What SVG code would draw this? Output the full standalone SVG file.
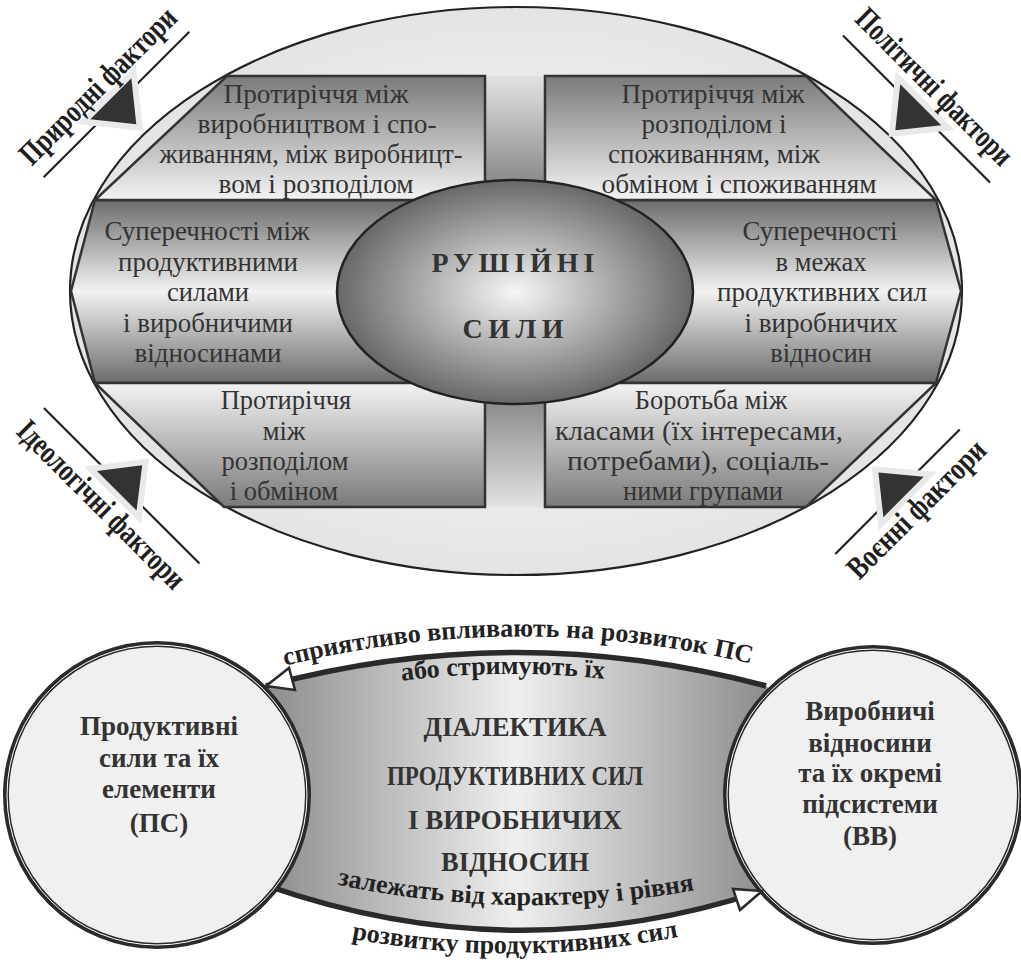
<svg xmlns="http://www.w3.org/2000/svg" width="1021" height="962" viewBox="0 0 1021 962">
  <style>
    .box { stroke: #333; stroke-width: 2.5; }
    .bt { font-family: "Liberation Serif", "DejaVu Serif", serif; font-size: 26.5px; fill: #333; text-anchor: middle; }
    .ft { font-family: "Liberation Serif", "DejaVu Serif", serif; font-weight: bold; font-size: 32px; fill: #1e1e1e; text-anchor: middle; }
    .fl { stroke: #222; stroke-width: 2.2; }
    .tri { fill: #333; stroke: #e9e9e9; stroke-width: 12; stroke-linejoin: miter; paint-order: stroke; }
    .core { font-family: "Liberation Serif", "DejaVu Serif", serif; font-weight: bold; font-size: 28px; fill: #333; text-anchor: middle; }
    .ct { font-family: "Liberation Serif", "DejaVu Serif", serif; font-weight: bold; font-size: 27px; fill: #333; text-anchor: middle; }
    .dt { font-family: "Liberation Serif", "DejaVu Serif", serif; font-weight: bold; font-size: 27px; fill: #333; text-anchor: middle; }
    .arc { font-family: "Liberation Serif", "DejaVu Serif", serif; font-weight: bold; font-size: 26px; fill: #222; text-anchor: middle; }
    .edge { fill: none; stroke: #2a2a2a; stroke-width: 5.5; }
    .head { fill: #fff; stroke: #2a2a2a; stroke-width: 2.5; stroke-linejoin: miter; }
    .ring { fill: #f0f0f0; stroke: #2b2b2b; stroke-width: 6; }
    .ring-in { fill: none; stroke: #fff; stroke-width: 1; }
  </style>
  <defs>
    <radialGradient id="gEll" cx="0.5" cy="0.5" r="0.5">
      <stop offset="0" stop-color="#ffffff"/>
      <stop offset="1" stop-color="#e4e4e4"/>
    </radialGradient>
    <linearGradient id="gTop" x1="0" y1="0" x2="0" y2="1">
      <stop offset="0" stop-color="#7a7a7a"/>
      <stop offset="1" stop-color="#f3f3f3"/>
    </linearGradient>
    <linearGradient id="gBot" x1="0" y1="0" x2="0" y2="1">
      <stop offset="0" stop-color="#f3f3f3"/>
      <stop offset="1" stop-color="#7a7a7a"/>
    </linearGradient>
    <linearGradient id="gBand" x1="0" y1="0" x2="0" y2="1">
      <stop offset="0" stop-color="#6c6c6c"/>
      <stop offset="0.5" stop-color="#f2f2f2"/>
      <stop offset="1" stop-color="#6c6c6c"/>
    </linearGradient>
    <linearGradient id="gBarTop" x1="0" y1="0" x2="0" y2="1">
      <stop offset="0" stop-color="#e2e2e2"/>
      <stop offset="1" stop-color="#7c7c7c"/>
    </linearGradient>
    <linearGradient id="gBarBot" x1="0" y1="0" x2="0" y2="1">
      <stop offset="0" stop-color="#7c7c7c"/>
      <stop offset="1" stop-color="#e2e2e2"/>
    </linearGradient>
    <radialGradient id="gCore" cx="0.5" cy="0.5" r="0.5">
      <stop offset="0" stop-color="#f6f6f6"/>
      <stop offset="1" stop-color="#686868"/>
    </radialGradient>
    <linearGradient id="gDial" gradientUnits="userSpaceOnUse" x1="264" y1="0" x2="769" y2="0">
      <stop offset="0" stop-color="#8c8c8c"/>
      <stop offset="0.5" stop-color="#efefef"/>
      <stop offset="1" stop-color="#8c8c8c"/>
    </linearGradient>
    <path id="pTop1" d="M 276,668 Q 516,606 760,666"/>
    <path id="pTop2" d="M 400,681 Q 503,668 606,679"/>
    <path id="pBot1" d="M 326,882 Q 515,925 706,888"/>
    <path id="pBot2" d="M 338,936 Q 515,972 692,934"/>
  </defs>

  <!-- driving forces: outer ellipse with cross and four sectors -->
  <g id="driving-forces">
    <ellipse cx="516" cy="291" rx="446" ry="284" fill="url(#gEll)" stroke="#222" stroke-width="2.2"/>
    <rect x="485" y="76" width="60" height="124" fill="url(#gBarTop)"/>
    <rect x="485" y="383" width="60" height="124" fill="url(#gBarBot)"/>
    <path id="band" class="box" fill="url(#gBand)" d="M 95,200 L 936,200 L 961,291 L 936,383 L 95,383 L 71,291 Z"/>
  </g>

  <g id="sector-tl">
    <path class="box" fill="url(#gTop)" d="M 227,76 L 485,76 L 485,200 L 95,200 Z"/>
    <text class="bt" x="316" y="103" textLength="185" lengthAdjust="spacingAndGlyphs">Протиріччя між</text>
    <text class="bt" x="317" y="133" textLength="239" lengthAdjust="spacingAndGlyphs">виробництвом і спо-</text>
    <text class="bt" x="311" y="163" textLength="303" lengthAdjust="spacingAndGlyphs">живанням, між виробницт-</text>
    <text class="bt" x="316" y="193" textLength="195" lengthAdjust="spacingAndGlyphs">вом і розподілом</text>
  </g>
  <g id="sector-tr">
    <path class="box" fill="url(#gTop)" d="M 545,76 L 806,76 L 936,200 L 545,200 Z"/>
    <text class="bt" x="713" y="103" textLength="183" lengthAdjust="spacingAndGlyphs">Протиріччя між</text>
    <text class="bt" x="714" y="133" textLength="145" lengthAdjust="spacingAndGlyphs">розподілом і</text>
    <text class="bt" x="714" y="163" textLength="212" lengthAdjust="spacingAndGlyphs">споживанням, між</text>
    <text class="bt" x="739" y="193" textLength="275" lengthAdjust="spacingAndGlyphs">обміном і споживанням</text>
  </g>
  <g id="sector-ml">
    <text class="bt" x="207" y="240" textLength="205" lengthAdjust="spacingAndGlyphs">Суперечності між</text>
    <text class="bt" x="208" y="271" textLength="180" lengthAdjust="spacingAndGlyphs">продуктивними</text>
    <text class="bt" x="208" y="301">силами</text>
    <text class="bt" x="208" y="332" textLength="170" lengthAdjust="spacingAndGlyphs">і виробничими</text>
    <text class="bt" x="208" y="362" textLength="147" lengthAdjust="spacingAndGlyphs">відносинами</text>
  </g>
  <g id="sector-mr">
    <text class="bt" x="820" y="240" textLength="155" lengthAdjust="spacingAndGlyphs">Суперечності</text>
    <text class="bt" x="821" y="271">в межах</text>
    <text class="bt" x="822" y="301" textLength="210" lengthAdjust="spacingAndGlyphs">продуктивних сил</text>
    <text class="bt" x="821" y="332" textLength="153" lengthAdjust="spacingAndGlyphs">і виробничих</text>
    <text class="bt" x="821" y="362">відносин</text>
  </g>
  <g id="sector-bl">
    <path class="box" fill="url(#gBot)" d="M 95,383 L 485,383 L 485,507 L 224,507 Z"/>
    <text class="bt" x="286" y="409">Протиріччя</text>
    <text class="bt" x="284" y="440">між</text>
    <text class="bt" x="285" y="470">розподілом</text>
    <text class="bt" x="284" y="500">і обміном</text>
  </g>
  <g id="sector-br">
    <path class="box" fill="url(#gBot)" d="M 545,383 L 936,383 L 806,507 L 545,507 Z"/>
    <text class="bt" x="711" y="409">Боротьба між</text>
    <text class="bt" x="699" y="440" textLength="288" lengthAdjust="spacingAndGlyphs">класами (їх інтересами,</text>
    <text class="bt" x="698" y="470" textLength="262" lengthAdjust="spacingAndGlyphs">потребами), соціаль-</text>
    <text class="bt" x="703" y="500">ними групами</text>
  </g>

  <g id="core">
    <ellipse cx="515" cy="292" rx="178" ry="112" fill="url(#gCore)" stroke="#222" stroke-width="2.5"/>
    <text class="core" x="513" y="272" textLength="163" lengthAdjust="spacing">РУШІЙНІ</text>
    <text class="core" x="513" y="338" textLength="101" lengthAdjust="spacing">СИЛИ</text>
  </g>

  <!-- external factors -->
  <g id="factor-natural" transform="translate(116.5,104.5) rotate(-45)">
    <line class="fl" x1="-103" y1="0" x2="103" y2="0"/>
    <polygon class="tri" points="-29,-8 29,-8 0,28"/>
    <text class="ft" x="0" y="-16" textLength="208" lengthAdjust="spacingAndGlyphs">Природні фактори</text>
  </g>
  <g id="factor-political" transform="translate(916.5,109) rotate(45)">
    <line class="fl" x1="-104" y1="0" x2="104" y2="0"/>
    <polygon class="tri" points="-29,-6 29,-6 0,30"/>
    <text class="ft" x="-3" y="-18" textLength="208" lengthAdjust="spacingAndGlyphs">Політичні фактори</text>
  </g>
  <g id="factor-ideological" transform="translate(121.7,485.8) rotate(45)">
    <line class="fl" x1="-110" y1="0" x2="110" y2="0"/>
    <polygon class="tri" points="-28,7 28,7 0,-29"/>
    <text class="ft" x="-1" y="38" textLength="224" lengthAdjust="spacingAndGlyphs">Ідеологічні фактори</text>
  </g>
  <g id="factor-military" transform="translate(897.5,491.7) rotate(-45)">
    <line class="fl" x1="-88" y1="0" x2="88" y2="0"/>
    <polygon class="tri" points="-28,8 29,8 0,-27"/>
    <text class="ft" x="1" y="36" textLength="182" lengthAdjust="spacingAndGlyphs">Воєнні фактори</text>
  </g>

  <!-- dialectics of productive forces and relations of production -->
  <g id="dialectics">
    <path fill="url(#gDial)" d="M 266,686 Q 516,619 766,686 L 873,795 L 762,891 Q 515,972 268,886 L 157,795 Z"/>
    <text class="dt" x="515" y="736" textLength="183" lengthAdjust="spacingAndGlyphs">ДІАЛЕКТИКА</text>
    <text class="dt" x="515" y="785" textLength="256" lengthAdjust="spacingAndGlyphs">ПРОДУКТИВНИХ СИЛ</text>
    <text class="dt" x="515" y="829" textLength="214" lengthAdjust="spacingAndGlyphs">І ВИРОБНИЧИХ</text>
    <text class="dt" x="515" y="871" textLength="148" lengthAdjust="spacingAndGlyphs">ВІДНОСИН</text>
  </g>

  <g id="connectors">
    <path id="edge-vv-ps" class="edge" d="M 766,686 Q 516,619 266,686"/>
    <path id="edge-ps-vv" class="edge" d="M 268,886 Q 515,972 762,891"/>
    <text class="arc"><textPath href="#pTop1" startOffset="50%">сприятливо впливають на розвиток ПС</textPath></text>
    <text class="arc" font-size="24"><textPath href="#pTop2" startOffset="50%">або стримують їх</textPath></text>
    <text class="arc"><textPath href="#pBot1" startOffset="50%">залежать від характеру і рівня</textPath></text>
    <text class="arc"><textPath href="#pBot2" startOffset="50%">розвитку продуктивних сил</textPath></text>
  </g>

  <g id="node-ps">
    <circle class="ring" cx="157" cy="795" r="151"/>
    <circle class="ring-in" cx="157" cy="795" r="150"/>
    <text class="ct" x="159" y="735">Продуктивні</text>
    <text class="ct" x="159" y="767">сили та їх</text>
    <text class="ct" x="159" y="798">елементи</text>
    <text class="ct" x="159" y="832">(ПС)</text>
  </g>
  <g id="node-vv">
    <circle class="ring" cx="873" cy="795" r="147"/>
    <circle class="ring-in" cx="873" cy="795" r="146"/>
    <text class="ct" x="870" y="720">Виробничі</text>
    <text class="ct" x="870" y="752">відносини</text>
    <text class="ct" x="870" y="782">та їх окремі</text>
    <text class="ct" x="870" y="813">підсистеми</text>
    <text class="ct" x="870" y="845">(ВВ)</text>
  </g>

  <g id="arrowheads">
    <polygon class="head" points="266,686 289,668 295,690"/>
    <polygon class="head" points="762,891 740,910 733,889"/>
  </g>
</svg>
